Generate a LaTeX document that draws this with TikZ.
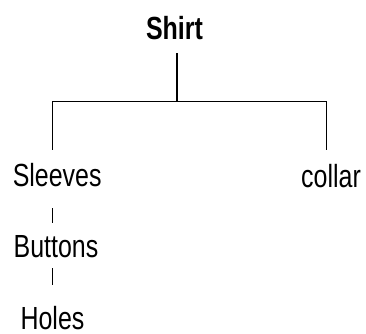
\documentclass[tikz,border=0pt]{standalone}
\usepackage{fontspec}
\usepackage{graphicx}
\setmainfont{Liberation Sans}
\begin{document}
\begin{tikzpicture}[x=1pt,y=1pt,
  lbl/.style={anchor=base,inner sep=0pt,text height=23pt,text depth=0pt,font=\fontsize{32}{32}\selectfont},
  edge/.style={line width=1.4pt,black}]
\useasboundingbox (0,0) rectangle (366,-333);
\node[lbl] (shirt) at (174.5,-39) {\scalebox{0.78}[1]{\bfseries Shirt}};
\node[lbl] (sleeves) at (57.2,-186.7) {\scalebox{0.78}[1]{Sleeves}};
\node[lbl] (collar) at (331,-187) {\scalebox{0.78}[1]{collar}};
\node[lbl] (buttons) at (56,-257.7) {\scalebox{0.78}[1]{Buttons}};
\node[lbl] (holes) at (52.5,-329.8) {\scalebox{0.78}[1]{Holes}};
\coordinate (j) at (177,-101.7);
\coordinate (l) at (52.3,-101.7);
\coordinate (r) at (326.7,-101.7);
\draw[edge] (l) -- (r);
\draw[edge,shorten <=14pt] (shirt.base -| j) -- (j);
\draw[edge,shorten >=13.7pt] (l) -- (l |- sleeves.north);
\draw[edge,shorten >=13.7pt] (r) -- (r |- collar.north);
\draw[edge,shorten <=21.6pt,shorten >=11.4pt] (l |- sleeves.base) -- (l |- buttons.north);
\draw[edge,shorten <=10.6pt,shorten >=22pt] (l |- buttons.base) -- (l |- holes.north);
\end{tikzpicture}
\end{document}
